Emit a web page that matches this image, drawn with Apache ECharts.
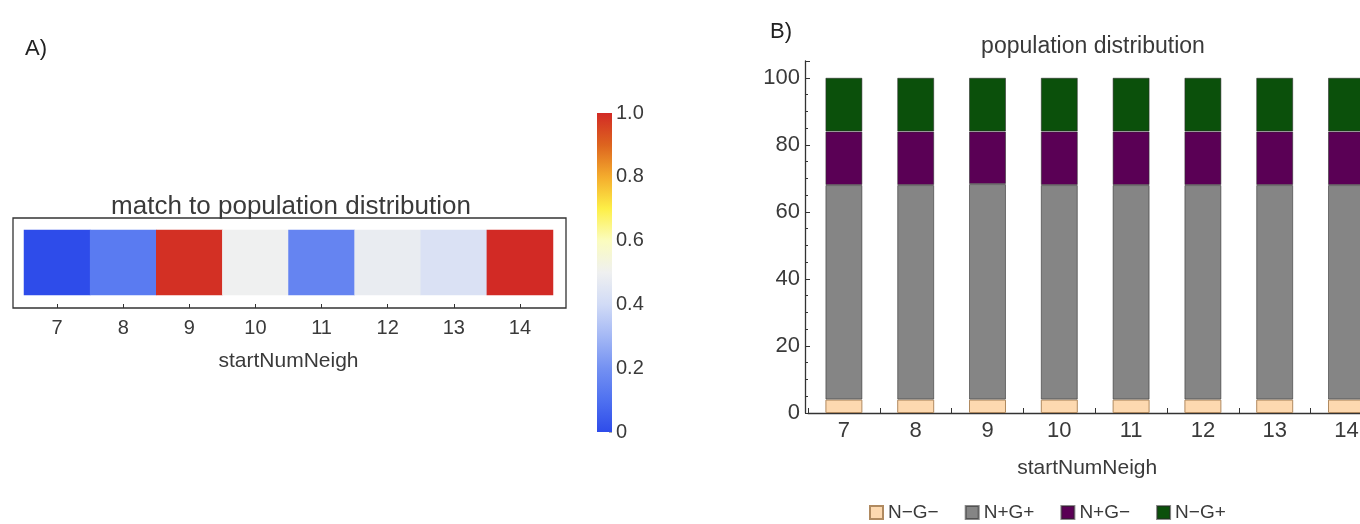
<!DOCTYPE html>
<html>
<head>
<meta charset="utf-8">
<script src="https://cdn.jsdelivr.net/npm/echarts@6/dist/echarts.min.js"></script>
<style>
  html, body { margin: 0; padding: 0; background: #ffffff; }
  #chart { width: 1360px; height: 524px; }
</style>
</head>
<body>
<div id="chart"></div>
<script>
// Neighbourhood sizes shared by both panels
const neighCounts = ['7', '8', '9', '10', '11', '12', '13', '14'];

// Panel A: match score per neighbourhood size (0..1)
const matchScores = [0.0, 0.13, 0.99, 0.50, 0.16, 0.48, 0.43, 1.0];

// Panel B: population shares (percent) per group
const groupNames = ['N\u2212G\u2212', 'N+G+', 'N+G\u2212', 'N\u2212G+'];
const shareNmGm = [4, 4, 4, 4, 4, 4, 4, 4];
const shareNpGp = [64, 64, 64.3, 64, 64, 64, 64, 64];
const shareNpGm = [16, 16, 15.7, 16, 16, 16, 16, 16];
const shareNmGp = [16, 16, 16, 16, 16, 16, 16, 16];
const groupColors = ['#fdd9b0', '#858585', '#5a0055', '#0b500b'];

// Temperature-style colour map, evenly spaced from 0 to 1
const temperatureColors = [
  '#2e4cea', '#4f71f0', '#7491f2', '#a4b8f5', '#d1dbf6', '#eff0f0',
  '#fbfcbe', '#fdef47', '#f4ac2d', '#dd641f', '#d22a25'
];

const textColor = '#3a3a3a';
const fontFamily = '"Liberation Sans", Arial, sans-serif';

const chart = echarts.init(document.getElementById('chart'), null, { renderer: 'canvas' });

const gradientStops = temperatureColors.map((c, i) => ({
  offset: i / (temperatureColors.length - 1), color: c
}));

const option = {
  backgroundColor: '#ffffff',
  textStyle: { fontFamily: fontFamily, color: textColor },
  animation: false,
  title: [
    { text: 'A)', left: 20, top: 33, textStyle: { fontSize: 22, fontWeight: 'normal', color: '#222', fontFamily: fontFamily } },
    { text: 'B)', left: 765, top: 16, textStyle: { fontSize: 22, fontWeight: 'normal', color: '#222', fontFamily: fontFamily } },
    { text: 'match to population distribution', left: 286, textAlign: 'center', top: 189,
      textStyle: { fontSize: 26, fontWeight: 'normal', color: textColor, fontFamily: fontFamily } },
    { text: 'population distribution', left: 1088, textAlign: 'center', top: 30,
      textStyle: { fontSize: 23, fontWeight: 'normal', color: textColor, fontFamily: fontFamily } }
  ],
  grid: [
    // 0: heatmap cells
    { left: 24, top: 230, width: 529, height: 65, outerBoundsMode: 'none' },
    // 1: stacked bars (runs past the right edge of the page)
    { left: 808, top: 61, width: 574.4, bottom: 111, outerBoundsMode: 'none' },
    // 2: frame around the heatmap
    { left: 13, top: 218, width: 553, height: 90, show: true, borderColor: '#333', borderWidth: 1.3,
      backgroundColor: 'transparent', outerBoundsMode: 'none' },
    // 3: colour bar
    { left: 597, top: 113, width: 15, height: 319, outerBoundsMode: 'none' }
  ],
  visualMap: {
    show: false, type: 'continuous', min: 0, max: 1, dimension: 2, seriesIndex: 0,
    inRange: { color: temperatureColors }
  },
  xAxis: [
    {
      gridIndex: 0, type: 'category', data: neighCounts, offset: 13,
      axisLine: { show: false },
      axisTick: { show: true, inside: true, alignWithLabel: true, length: 4, lineStyle: { color: '#333' } },
      axisLabel: { fontSize: 20, color: textColor, margin: 10 },
      name: 'startNumNeigh', nameLocation: 'middle', nameGap: 43,
      nameTextStyle: { fontSize: 21, color: textColor },
      splitLine: { show: false }
    },
    {
      gridIndex: 1, type: 'category', data: neighCounts,
      axisLine: { show: true, lineStyle: { color: '#333', width: 1.3 } },
      axisTick: { show: true, inside: true, length: 5, lineStyle: { color: '#333' } },
      axisLabel: { fontSize: 22, color: textColor, margin: 7 },
      name: 'startNumNeigh', nameLocation: 'middle', nameGap: 45,
      nameTextStyle: { fontSize: 21, color: textColor, padding: [0, 16, 0, 0] }
    },
    { gridIndex: 2, type: 'value', show: false },
    { gridIndex: 3, type: 'category', data: ['scale'], show: false }
  ],
  yAxis: [
    { gridIndex: 0, type: 'category', data: ['match'], show: false },
    {
      gridIndex: 1, type: 'value', min: 0, max: 105, interval: 20, offset: 3,
      axisLine: { show: true, lineStyle: { color: '#333', width: 1.3 } },
      axisTick: { show: true, inside: true, length: 5, lineStyle: { color: '#333' } },
      minorTick: { show: true, splitNumber: 4, length: 3, lineStyle: { color: '#333' } },
      splitLine: { show: false },
      axisLabel: { fontSize: 22, color: textColor, margin: 5, showMaxLabel: false }
    },
    { gridIndex: 2, type: 'value', show: false },
    {
      gridIndex: 3, type: 'value', min: 0, max: 1, interval: 0.2, position: 'right',
      axisLine: { show: false },
      axisTick: { show: true, inside: true, length: 3, lineStyle: { color: 'rgba(90,90,90,0.5)' } },
      minorTick: { show: true, splitNumber: 4, length: 2, lineStyle: { color: 'rgba(90,90,90,0.4)' } },
      splitLine: { show: false },
      axisLabel: {
        fontSize: 20, color: textColor, margin: 4,
        formatter: v => (v === 0 ? '0' : v.toFixed(1))
      }
    }
  ],
  legend: {
    left: 864, top: 498, itemWidth: 13, itemHeight: 13, itemGap: 26, icon: 'rect',
    data: groupNames,
    textStyle: { fontSize: 19, color: textColor, fontFamily: fontFamily }
  },
  series: [
    {
      type: 'heatmap', xAxisIndex: 0, yAxisIndex: 0,
      data: matchScores.map((v, i) => [i, 0, v]),
      itemStyle: { borderWidth: 0 },
      emphasis: { disabled: true }
    },
    ...[shareNmGm, shareNpGp, shareNpGm, shareNmGp].map((vals, k) => ({
      type: 'bar', name: groupNames[k], stack: 'population', xAxisIndex: 1, yAxisIndex: 1,
      barWidth: '51.5%', data: vals,
      itemStyle: {
        color: groupColors[k],
        borderColor: k === 0 ? '#b08a60' : 'rgba(40,40,40,0.55)', borderWidth: 1
      }
    })),
    {
      type: 'bar', xAxisIndex: 3, yAxisIndex: 3, barWidth: '100%', data: [1],
      silent: true,
      itemStyle: {
        color: { type: 'linear', x: 0, y: 1, x2: 0, y2: 0, colorStops: gradientStops }
      }
    }
  ]
};

chart.setOption(option);
</script>
</body>
</html>
